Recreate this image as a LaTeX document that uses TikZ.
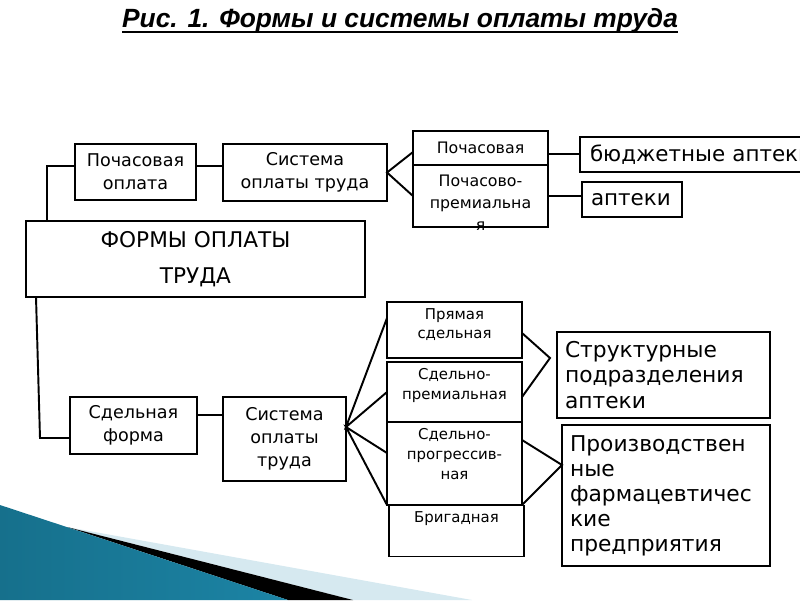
\documentclass[tikz,border=0pt]{standalone}
\usepackage{fontspec}
\setmainfont{DejaVu Sans}
\newfontfamily\titlefont{Liberation Sans}
\usetikzlibrary{positioning}
\definecolor{slidedark}{RGB}{22, 112, 140}
\definecolor{slidemid}{RGB}{95, 190, 218}
\definecolor{slideedge}{RGB}{28, 132, 165}
\definecolor{slidepale}{RGB}{214, 233, 240}
\newcommand{\fsBox}{\fontsize{10}{13}\selectfont}
\newcommand{\fsForms}{\fontsize{12.3}{20.4}\selectfont}
\newcommand{\fsThin}{\fontsize{8.5}{11.3}\selectfont}
\newcommand{\fsHour}{\fontsize{9}{12.5}\selectfont}
\newcommand{\fsBig}{\fontsize{12.4}{14.7}\selectfont}
\newcommand{\fsProd}{\fontsize{12.4}{14.2}\selectfont}
\newcommand{\fsWhere}{\fontsize{12.2}{14}\selectfont}
\newcommand{\ulTitle}[1]{\setbox0\hbox{#1}\rlap{\rule[-3pt]{\wd0}{1.2pt}}\box0}

\begin{document}
\begin{tikzpicture}[%
    x=0.02cm, y=-0.02cm,        % one unit is one pixel of the slide, y downwards
    line width=1.1pt,
    ]
% -------------------------------------------------
% Box styles
\tikzset{
  boxsize/.style 2 args={minimum width=#1*0.02cm, minimum height=#2*0.02cm},
  base/.style={draw, black, line width=1.1pt, inner sep=0pt, outer sep=0pt, align=center},
  form/.style={base, font=\fsBox},
  formbig/.style={base, font=\fsForms},
  sub/.style={base, font=\fsHour},
  cell/.style={base},
  cellt/.style={inner sep=0pt, align=center, font=\fsThin},
  where/.style={base, font=\fsBig, align=left, text width=#1*0.02cm},
  shop/.style={base, font=\fsWhere, align=left, text width=#1*0.02cm},
  link/.style={draw, black, line width=1.1pt},
  }
% -------------------------------------------------
\clip (0,0) rectangle (800,600);

% slide decoration in the corner
\fill[slidepale] (67,527) -- (472,600) -- (353,600) -- cycle;
\fill[black] (67,527) -- (353,600) -- (288,600) -- cycle;
\shade[left color=slidedark, middle color=slidemid, right color=slideedge]
  (0,505) -- (288,600) -- (0,600) -- cycle;

% title
\node (t0) at (400,21) {\titlefont\fontsize{15}{18}\selectfont\bfseries\itshape
  \ulTitle{Рис. 1. Формы и системы оплаты труда}};

% -------------------------------------------------
% Start by placing the nodes
\node [formbig, boxsize={339}{76}] (f0) at (195.5,259) {ФОРМЫ ОПЛАТЫ\\ТРУДА};

\node [form, boxsize={121}{56}] (h1) at (135.5,172) {Почасовая\\оплата};
\node [form, boxsize={164}{57}] (h2) at (305,172.5) {Система\\оплаты труда};
\node [sub, boxsize={135}{34}] (h3) at (480.5,148) {Почасовая};
\node [cell, boxsize={135}{62}, below=0pt of h3,
  label={[sub, draw=none, anchor=north, yshift=-5.5pt]north:{Почасово-\\премиальна\\я}}] (h4) {};
\node [shop=230, boxsize={250}{35}, inner xsep=9*0.02cm] (h5) at (705,154.5) {бюджетные аптеки};
\node [shop=82, boxsize={100}{35}, inner xsep=9*0.02cm] (h6) at (632,199.5) {аптеки};

\node [form, boxsize={127}{57}] (s1) at (133.5,425.5) {Сдельная\\форма};
\node [form, boxsize={123}{84}] (s2) at (284.5,439) {Система\\оплаты\\труда};

\node [cell, boxsize={135}{56},
  label={[cellt, anchor=north, yshift=-3pt]north:{Прямая\\сдельная}}] (s3) at (454.5,330) {};
\node [cell, boxsize={135}{60},
  label={[cellt, anchor=north, yshift=-3pt]north:{Сдельно-\\премиальная}}] (s4) at (454.5,392) {};
\node [cell, boxsize={135}{83}, below=0pt of s4,
  label={[cellt, anchor=north, yshift=-3pt]north:{Сдельно-\\прогрессив-\\ная}}] (s5) {};
\node [cell, boxsize={135}{51},
  label={[cellt, anchor=north, yshift=-3pt]north:{Бригадная}}] (s6) at (456.5,531) {};

\node [where=197, boxsize={213}{86}, inner xsep=7*0.02cm] (s7) at (663.5,375)
  {Структурные\\подразделения\\аптеки};
\node [where=192, boxsize={208}{141}, inner xsep=7*0.02cm, font=\fsProd] (s8) at (666,495.5)
  {Производствен\\ные\\фармацевтичес\\кие\\предприятия};

% -------------------------------------------------
% Connectors, upper branch
\draw [link] (h1.west |- 0,166) -| (47,0 |- f0.north);
\draw [link] (h1.east |- 0,166) -- (h2.west |- 0,166);
\draw [link] (h3.west |- 0,152) -- (h2.east) -- (h4.west);
\draw [link] (h3.east |- 0,154) -- (h5.west |- 0,154);
\draw [link] (h4.east) -- (h4.east -| h6.west);

% lower branch
\coordinate (j1) at (40,438);
\coordinate (j2) at (346,427);
\coordinate (j3) at (550,358);
\coordinate (j4) at (562,465);
\draw [link] (36,0 |- f0.south) -- (j1) -- (j1 -| s1.west);
\draw [link] (s1.east |- 0,415) -- (s2.west |- 0,415);
\draw [link] (s3.west |- 0,318) -- (j2) -- (s4.west);
\draw [link] (s5.west |- 0,453) -- (j2) -- (s5.south west);
\draw [link] (s3.east |- 0,333) -- (j3) -- (s4.east |- 0,397);
\draw [link] (s5.east |- 0,440) -- (j4) -- (s5.south east);
\end{tikzpicture}
\end{document}
